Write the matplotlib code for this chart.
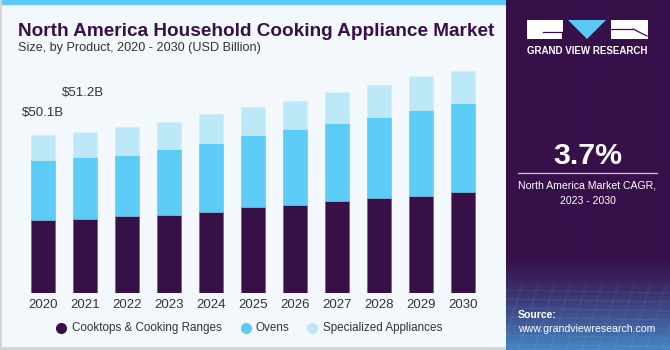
import numpy as np
import matplotlib
matplotlib.use("Agg")
import matplotlib.pyplot as plt
from matplotlib.patches import Rectangle, Polygon

years = ["2020", "2021", "2022", "2023", "2024", "2025", "2026", "2027", "2028", "2029", "2030"]
cooktops = [23.3, 23.6, 24.4, 25.0, 25.9, 27.3, 28.0, 29.2, 30.3, 31.0, 32.2]
ovens = [19.0, 19.7, 19.6, 20.9, 21.9, 23.0, 24.2, 24.8, 25.8, 27.2, 28.3]
specialized = [7.8, 7.9, 8.7, 8.6, 9.0, 9.0, 8.9, 9.8, 10.0, 10.8, 10.2]
series_names = ["Cooktops & Cooking Ranges", "Ovens", "Specialized Appliances"]
label_texts = ["$50.1B", "$51.2B"]

C_DARK = "#381048"
C_OVEN = "#5ccbf6"
C_SPEC = "#bde8f8"
BG = "#f3f8fc"

W, H = 670, 350
plt.rcParams['font.family'] = ['Liberation Sans', 'DejaVu Sans']
fig = plt.figure(figsize=(W / 100, H / 100), dpi=100, facecolor=BG)

def fx(px):
    return px / W

def fy(py):
    return 1 - py / H

# groups of texts sharing one size, fitted to the width of the first text
fit_groups = []

# top stripe and borders
fig.patches.append(Rectangle((0, fy(5)), fx(506), 5 / H, transform=fig.transFigure,
                             facecolor="#5bc8f5", edgecolor="none", zorder=5))
fig.patches.append(Rectangle((0, 0), fx(506), 3 / H, transform=fig.transFigure,
                             facecolor="#d3d6d9", edgecolor="none", zorder=5))
fig.patches.append(Rectangle((0, 0), 2 / W, 1, transform=fig.transFigure,
                             facecolor="#d3d6d9", edgecolor="none", zorder=5))

# main axes
y_bottom_px, y_top_px = 293.3, 60
scale = 3.15
ax = fig.add_axes([0, fy(y_bottom_px), fx(506), (y_bottom_px - y_top_px) / H])
ax.set_facecolor("none")
x = np.arange(len(years))
ax.set_xlim(-43 / 42, (506 - 43) / 42)
ax.set_ylim(0, (y_bottom_px - y_top_px) / scale)
bw = 24 / 42
b1 = np.array(cooktops)
b2 = b1 + np.array(ovens)
ax.bar(x, cooktops, width=bw, color=C_DARK, edgecolor="#7a5a8a", linewidth=0.5)
ax.bar(x, ovens, bottom=b1, width=bw, color=C_OVEN, edgecolor="#7ab8d8", linewidth=0.4)
ax.bar(x, specialized, bottom=b2, width=bw, color=C_SPEC, edgecolor="#cdeefa", linewidth=0.4)
for s in ax.spines.values():
    s.set_visible(False)
ax.set_yticks([])
ax.set_xticks(x)
ax.set_xticklabels(years, fontsize=9.5, color="#333333")
ax.tick_params(axis="x", length=0, pad=4)

totals = b2 + np.array(specialized)
ax.text(0, totals[0] + 22 / scale, label_texts[0], ha="center", va="center", fontsize=9.5, color="#333333")
ax.text(1 - 0.05, totals[1] + 39 / scale, label_texts[1], ha="center", va="center", fontsize=9.5, color="#333333")

# legend (manual)
leg_marker_x = [61, 246, 312]
leg_text_x = [72, 255, 323]
leg_objs = []
for mx, tx, c, name in zip(leg_marker_x, leg_text_x, (C_DARK, C_OVEN, C_SPEC), series_names):
    fig.lines.append(plt.Line2D([fx(mx)], [fy(328)], marker="o", markersize=7, color=c,
                                linestyle="none", transform=fig.transFigure))
    leg_objs.append(fig.text(fx(tx), fy(328), name, fontsize=9, color="#333333", ha="left", va="center"))
fit_groups.append((leg_objs, 150))

# title
t = fig.text(fx(18), fy(31), "North America Household Cooking Appliance Market", fontsize=14,
             fontweight="bold", color=C_DARK, ha="left", va="center")
st = fig.text(fx(18), fy(47.5), "Size, by Product, 2020 - 2030 (USD Billion)", fontsize=9.5,
              color="#333333", ha="left", va="center")
fit_groups += [([t], 478), ([st], 244)]

# right panel
pax = fig.add_axes([fx(506), 0, fx(164), 1])
pax.set_xlim(506, 670)
pax.set_ylim(350, 0)
pax.axis("off")
top = np.array([0x37, 0x10, 0x4a]) / 255
bot = np.array([0x45, 0x88, 0xc8]) / 255
rows = np.arange(350)
tt = np.clip((rows - 255) / (350 - 255), 0, 1)[:, None] ** 1.3
grad = top * (1 - tt) + bot * tt
img = np.repeat(grad[:, None, :], 2, axis=1)
pax.imshow(img, extent=(506, 670, 350, 0), aspect="auto", interpolation="bilinear", zorder=0)
for k in range(12):
    xx = 506 + k * 16
    pax.plot([xx, xx - 20], [285, 350], color="white", alpha=0.08, lw=0.6, zorder=1)
for yy in range(290, 350, 9):
    pax.plot([506, 670], [yy, yy + 3], color="white", alpha=0.08, lw=0.6, zorder=1)

# logo
pax.add_patch(Rectangle((527, 20), 36, 19, facecolor="white", edgecolor="none", zorder=2))
pax.plot([543, 562], [32, 32], color=C_DARK, lw=0.9, zorder=3)
pax.plot([562, 562], [32, 39], color=C_DARK, lw=0.9, zorder=3)
pax.add_patch(Polygon([[568, 20], [606, 20], [587, 39]], closed=True, facecolor="#5bc8f5",
                      edgecolor="none", zorder=2))
pax.add_patch(Rectangle((611, 20), 37, 19, facecolor="white", edgecolor="none", zorder=2))
pax.plot([611, 632], [29, 29], color=C_DARK, lw=0.9, zorder=3)
pax.plot([633, 647], [29, 36], color=C_DARK, lw=0.9, zorder=3)
g = pax.text(587.5, 51, "GRAND VIEW RESEARCH", color="white", fontsize=6.6, fontweight="bold",
             ha="center", va="center", zorder=3)
fit_groups.append(([g], 121))

pct = pax.text(587.5, 156, "3.7%", color="white", fontsize=23, fontweight="bold", ha="center", va="center", zorder=3)
fit_groups.append(([pct], 69))
pax.plot([518, 657], [173, 173], color="#cfc3d8", lw=0.9, zorder=3)
c1 = pax.text(587.5, 185, "North America Market CAGR,", color="white", fontsize=8.8, ha="center", va="center", zorder=3)
c2 = pax.text(587.5, 201, "2023 - 2030", color="white", fontsize=8.8, ha="center", va="center", zorder=3)
fit_groups.append(([c1, c2], 139))
s2 = pax.text(518, 329, "www.grandviewresearch.com", color="white", fontsize=8.8, ha="left", va="center", zorder=3)
s1 = pax.text(518, 315, "Source:", color="white", fontsize=8.8, fontweight="bold", ha="left", va="center", zorder=3)
fit_groups.append(([s2, s1], 138))

fig.canvas.draw()
r = fig.canvas.get_renderer()
for objs, target in fit_groups:
    w = objs[0].get_window_extent(r).width
    size = objs[0].get_fontsize() * target / w
    for o in objs:
        o.set_fontsize(size)

fig.savefig("out.png", dpi=100, facecolor=BG)
